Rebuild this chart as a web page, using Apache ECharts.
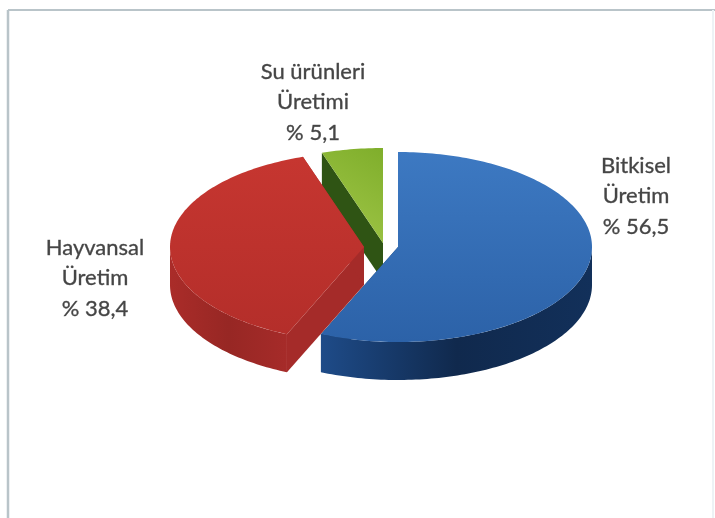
<!DOCTYPE html>
<html>
<head>
<meta charset="utf-8">
<style>html,body{margin:0;padding:0;background:#fff}#c{width:715px;height:518px}</style>
<script src="https://cdn.jsdelivr.net/npm/echarts@6/dist/echarts.min.js"></script>
</head>
<body>
<div id="c"></div>
<script>
// Data
var categories = ['Bitkisel\nÜretim', 'Hayvansal\nÜretim', 'Su ürünleri\nÜretimi'];
var shares = [56.5, 38.4, 5.1];

// Layout and style
var pieCenter = [398, 247];
var radiusX = 194, radiusY = 95, depth = 38;
var explode = [[0, 0], [-34, 0], [-15, -4]];
var labelAt = [[636, 196], [95, 278], [313, 102]];
var paintOrder = [2, 3, 1];
var topColors = [
  ['#3d79c2', '#2c62a8'],
  ['#c63630', '#b42e2a'],
  ['#7fae2b', '#a3c84a']
];
var wallColors = [
  ['#1e4b88', '#10294d', '#12305a'],
  ['#aa2c29', '#972724', '#a62b29'],
  ['#3a6418', '#2c5012', '#2c5012']
];
var faceColors = ['#16375f', '#a52b29', '#2f5414'];

var G = echarts.graphic;
var total = shares.reduce(function (a, b) { return a + b; }, 0);

function arcPoints(cx, cy, a0, a1) {
  var n = Math.max(2, Math.ceil(Math.abs(a1 - a0) / 0.02)), pts = [];
  for (var i = 0; i <= n; i++) {
    var a = a0 + (a1 - a0) * i / n;
    pts.push([cx + radiusX * Math.sin(a), cy - radiusY * Math.cos(a)]);
  }
  return pts;
}
function down(pts) { return pts.map(function (p) { return [p[0], p[1] + depth]; }); }
function grad(x, y, x2, y2, cols) {
  return new G.LinearGradient(x, y, x2, y2, cols.map(function (c, i) {
    return { offset: i / (cols.length - 1), color: c };
  }));
}
function pct(v) { return '% ' + String(v).replace('.', ','); }

function renderItem(params, api) {
  var i = params.dataIndex, z = paintOrder[i] * 10;
  var before = 0;
  for (var k = 0; k < i; k++) before += shares[k];
  var a0 = before / total * 2 * Math.PI;
  var a1 = a0 + api.value(0) / total * 2 * Math.PI;
  var cx = pieCenter[0] + explode[i][0], cy = pieCenter[1] + explode[i][1];
  var arc = arcPoints(cx, cy, a0, a1);
  var apex = [cx, cy];
  var children = [];

  // cut faces
  [arc[0], arc[arc.length - 1]].forEach(function (p) {
    children.push({
      type: 'polygon', z2: z,
      shape: { points: [apex, p, [p[0], p[1] + depth], [apex[0], apex[1] + depth]] },
      style: { fill: faceColors[i] }
    });
  });
  // outer wall: front half of the rim only
  var w0 = Math.max(a0, Math.PI / 2), w1 = Math.min(a1, 3 * Math.PI / 2);
  if (w1 > w0) {
    var rim = arcPoints(cx, cy, w0, w1);
    children.push({
      type: 'polygon', z2: z + 1,
      shape: { points: rim.concat(down(rim).reverse()) },
      style: { fill: grad(0, 0, 1, 0, wallColors[i]) }
    });
  }
  // top face
  children.push({
    type: 'polygon', z2: z + 2,
    shape: { points: [apex].concat(arc) },
    style: { fill: grad(i === 2 ? 1 : 0, 0, 0, 1, topColors[i]) }
  });
  // label
  children.push({
    type: 'text', z2: 100,
    x: labelAt[i][0], y: labelAt[i][1],
    style: {
      text: categories[i] + '\n' + pct(api.value(0)),
      fill: '#454545',
      stroke: '#6a6a6a',
      lineWidth: 0.4,
      font: '22px Lato, sans-serif',
      lineHeight: 30.5,
      align: 'center',
      verticalAlign: 'middle'
    }
  });
  return { type: 'group', children: children };
}

var chart = echarts.init(document.getElementById('c'), null, { renderer: 'canvas' });
chart.setOption({
  animation: false,
  backgroundColor: '#ffffff',
  graphic: [
    { type: 'line', shape: { x1: 8, y1: 10, x2: 715, y2: 10 }, style: { stroke: '#b9c4c9', lineWidth: 2 } },
    { type: 'line', shape: { x1: 8, y1: 10, x2: 8, y2: 518 }, style: { stroke: '#b9c4c9', lineWidth: 2.5 } },
    { type: 'line', shape: { x1: 713, y1: 10, x2: 713, y2: 518 }, style: { stroke: '#edf2f5', lineWidth: 2 } }
  ],
  series: [{
    type: 'custom',
    coordinateSystem: 'none',
    silent: true,
    renderItem: renderItem,
    data: shares.map(function (v, i) { return { name: categories[i], value: [v] }; })
  }]
});
</script>
</body>
</html>
